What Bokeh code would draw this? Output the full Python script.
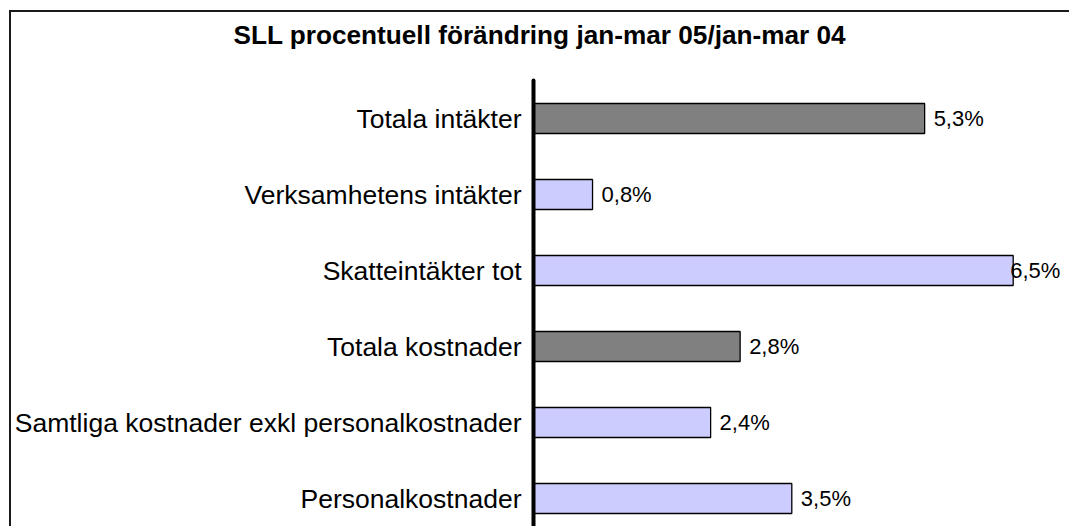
from bokeh.plotting import figure
from bokeh.models import ColumnDataSource, Range1d, FixedTicker, LabelSet, Title
from bokeh.core.properties import value
from bokeh.embed import file_html
from bokeh.resources import INLINE

title_text = "SLL procentuell förändring jan-mar 05/jan-mar 04"
categories = [
    "Totala intäkter",
    "Verksamhetens intäkter",
    "Skatteintäkter tot",
    "Totala kostnader",
    "Samtliga kostnader exkl personalkostnader",
    "Personalkostnader",
]
values = [5.3, 0.8, 6.5, 2.8, 2.4, 3.5]

n = len(categories)
ys = list(range(n))
colors = ["#808080" if c.startswith("Totala") else "#CCCCFF" for c in categories]
labels = [f"{v:.1f}%".replace(".", ",") for v in values]
vmax = max(values)
offsets = [-3 if v == vmax else 9 for v in values]

src = ColumnDataSource(dict(y=ys, v=values, color=colors, label=labels, off=offsets))

W, H = 1060, 516
left_border = 522
top_border = 68
px_per_unit = 73.8
row_px = 76
x_end = (W - left_border) / px_per_unit
y_bottom = -0.5 + (H - top_border) / row_px

p = figure(width=W, height=H, output_backend="svg", toolbar_location=None,
           x_range=Range1d(0, x_end), y_range=Range1d(y_bottom, -0.5),
           min_border_left=left_border, min_border_right=0,
           min_border_bottom=0, min_border_top=top_border,
           x_axis_location=None, outline_line_color=None,
           styles={"border-left": "2px solid #1a1a1a", "border-top": "2px solid #1a1a1a",
                   "margin-left": "9px", "margin-top": "10px"})

p.grid.visible = False
p.background_fill_color = "white"
p.border_fill_color = "white"

p.title.text = title_text
p.title.align = "left"
p.title.offset = -300
p.title.text_font = "Liberation Sans"
p.title.text_font_size = "26.2px"
p.title.text_font_style = "bold"
p.title.text_color = "black"
p.title.standoff = 0

spacer = Title(text=" ", text_font_size="2px", standoff=27, text_color="white")
p.add_layout(spacer, "above")

p.hbar(y="y", right="v", left=0, height=0.395, source=src,
       fill_color="color", line_color="black", line_width=1.3)

labs = LabelSet(x="v", y="y", text="label", x_offset="off", source=src,
                text_align="left", text_baseline="middle",
                text_font=value("Liberation Sans"), text_font_size="22px",
                text_color="black")
p.add_layout(labs)

ax = p.yaxis[0]
ax.ticker = FixedTicker(ticks=ys)
ax.major_label_overrides = {i: c for i, c in zip(ys, categories)}
ax.major_tick_line_color = None
ax.minor_tick_line_color = None
ax.major_tick_out = 0
ax.major_tick_in = 0
ax.major_label_standoff = 12
ax.axis_line_color = "black"
ax.axis_line_width = 4
ax.axis_line_cap = "round"
ax.major_label_text_font = "Liberation Sans"
ax.major_label_text_font_size = "26.5px"
ax.major_label_text_color = "black"

open("out.html", "w").write(file_html(p, INLINE))
